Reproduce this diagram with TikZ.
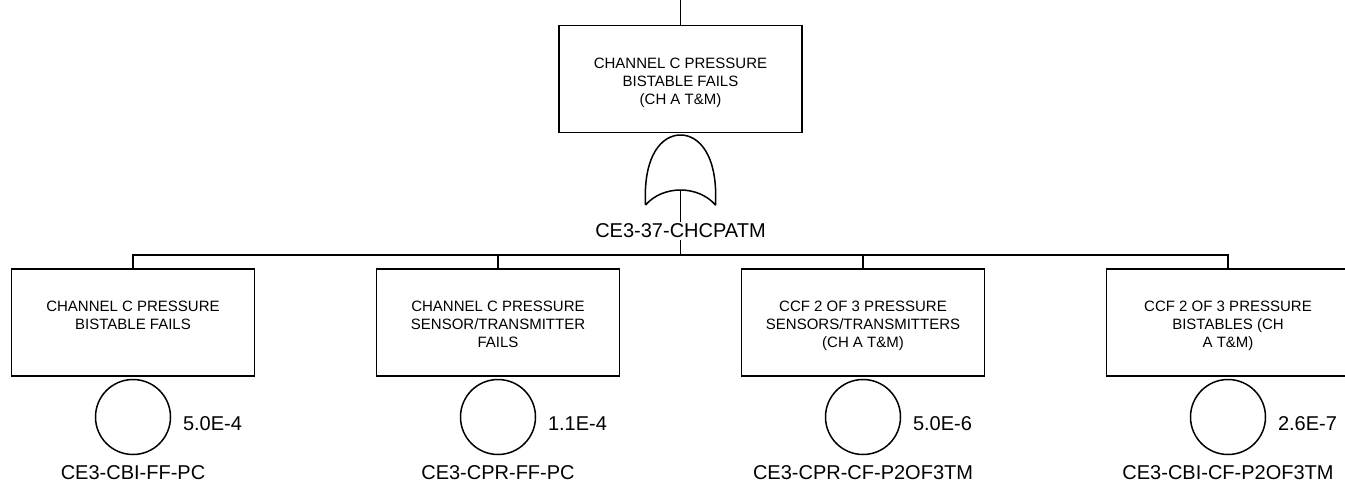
\documentclass[tikz,border=0pt]{standalone}
\usepackage{fontspec}
\setmainfont{Liberation Sans}
\usetikzlibrary{positioning,calc}
\tikzset{
  every picture/.style={line width=1.5pt},
  ftbox/.style={draw, rectangle, minimum width=243pt, minimum height=107pt,
                inner sep=0pt, align=center, text height=50pt, text depth=0pt,
                font=\fontsize{15}{18}\selectfont},
  fbasic/.style={draw, circle, minimum size=75pt, inner sep=0pt},
  fname/.style={font=\fontsize{20}{24}\selectfont, inner sep=1pt},
  fprob/.style={font=\fontsize{20}{24}\selectfont, inner sep=0pt},
  ftgate/.style={line join=round},
}

\begin{document}
\begin{tikzpicture}[x=1pt,y=-1pt]
  \useasboundingbox (0,0) rectangle (1345,488);
  % top event and OR gate
  \coordinate (in) at (680.5,0);
  \node[ftbox] (top) at (680.5,79) {CHANNEL C PRESSURE\\BISTABLE FAILS\\(CH A T\&M)};
  \draw[ftgate] (645.5,205) .. controls (643,155) and (662,135) .. (680.5,135)
                .. controls (699,135) and (718,155) .. (715.5,205)
                .. controls (698,185) and (663,185) .. (645.5,205);
  \coordinate (gout) at (680.5,190);
  \node[fname] (gate) at (680.5,231) {CE3-37-CHCPATM};
  \coordinate (bus) at (680.5,255);
  \draw (in) -- (top.north);
  \draw (gout) -- (gate.north);
  \draw (gate.south) -- (bus);

  % basic events
  \node[ftbox] (e1) at (133,322.5) {CHANNEL C PRESSURE\\BISTABLE FAILS\\\strut};
  \node[ftbox] (e2) at (498,322.5) {CHANNEL C PRESSURE\\SENSOR/TRANSMITTER\\FAILS};
  \node[ftbox] (e3) at (863,322.5) {CCF 2 OF 3 PRESSURE\\SENSORS/TRANSMITTERS\\(CH A T\&M)};
  \node[ftbox] (e4) at (1228,322.5) {CCF 2 OF 3 PRESSURE\\BISTABLES (CH\\A T\&M)};

  \node[fbasic, below=2pt of e1] (c1) {};
  \node[fbasic, below=2pt of e2] (c2) {};
  \node[fbasic, below=2pt of e3] (c3) {};
  \node[fbasic, below=2pt of e4] (c4) {};

  \node[fprob, right=11pt of c1, yshift=-7pt] (p1) {5.0E-4};
  \node[fprob, right=11pt of c2, yshift=-7pt] (p2) {1.1E-4};
  \node[fprob, right=11pt of c3, yshift=-7pt] (p3) {5.0E-6};
  \node[fprob, right=11pt of c4, yshift=-7pt] (p4) {2.6E-7};

  \node[fname, below=9pt of c1] (n1) {CE3-CBI-FF-PC};
  \node[fname, below=9pt of c2] (n2) {CE3-CPR-FF-PC};
  \node[fname, below=9pt of c3] (n3) {CE3-CPR-CF-P2OF3TM};
  \node[fname, below=9pt of c4] (n4) {CE3-CBI-CF-P2OF3TM};

  \foreach \i in {1,...,4}
    \draw (bus) -| (e\i.north);
\end{tikzpicture}
\end{document}
